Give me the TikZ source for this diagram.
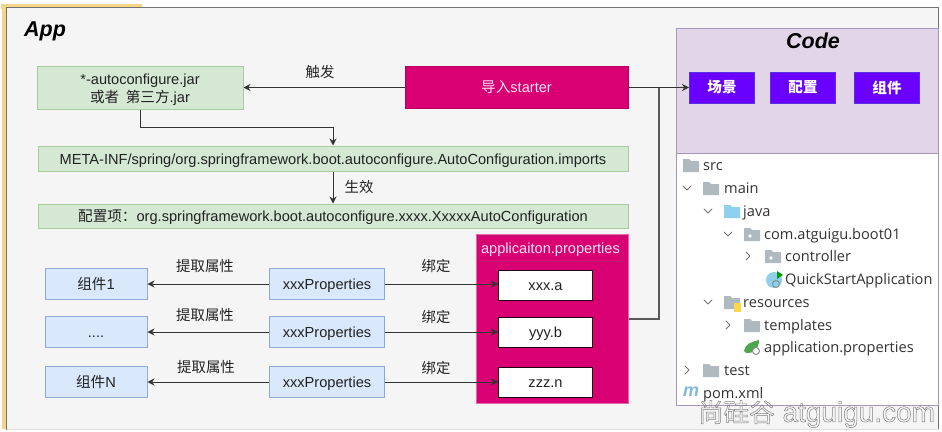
\documentclass[tikz,border=0pt]{standalone}
\usepackage{fontspec}
\setmainfont{Liberation Sans}
\newfontfamily\cjk{Noto Sans CJK SC}
\newfontfamily\treefont{Open Sans}
\usetikzlibrary{arrows.meta}
\definecolor{panelbg}{HTML}{F5F5F5}
\definecolor{greenf}{HTML}{D5E8D4}
\definecolor{greend}{HTML}{A8CC9C}
\definecolor{bluef}{HTML}{DAE8FC}
\definecolor{blued}{HTML}{8FABD3}
\definecolor{pinkf}{HTML}{D80073}
\definecolor{pinkd}{HTML}{B5005F}
\definecolor{codef}{HTML}{E1D5E7}
\definecolor{coded}{HTML}{A896B8}
\definecolor{indigof}{HTML}{6A00FF}
\definecolor{indigod}{HTML}{5A30E0}
\definecolor{folderc}{HTML}{AEB9C0}
\definecolor{javac}{HTML}{8FD0EE}
\definecolor{txt}{HTML}{222222}
\definecolor{stripc}{HTML}{F5D58A}
\newcommand{\st}{\rule[-3.4pt]{0pt}{18pt}}
\tikzset{
  x=1pt,y=-1pt,
  nodebox/.style={draw,line width=1pt,inner sep=0pt,align=center,text=txt,font=\fontsize{14.6}{18}\selectfont},
  greenbox/.style={nodebox,fill=greenf,draw=greend},
  bluebox/.style={nodebox,fill=bluef,draw=blued},
  valuebox/.style={nodebox,fill=white,draw=black!85!pinkf,minimum width=94pt,minimum height=30pt},
  scenebox/.style={nodebox,fill=indigof,draw=indigod,text=white,minimum width=65pt,minimum height=31pt,font=\cjk\bfseries\fontsize{14.6}{16}\selectfont},
  label/.style={inner sep=0pt,text=txt,font=\cjk\fontsize{14.4}{16}\selectfont},
  conn/.style={draw=black!80,line width=1pt,-{Stealth[length=7pt,width=7pt]}},
  plainconn/.style={draw=black!65,line width=1.2pt},
  treetext/.style={anchor=west,inner sep=0pt,text=black!80,font=\treefont\fontsize{14.6}{18}\selectfont,execute at begin node=\st},
  chev/.style={draw=black!55,line width=1pt,line cap=round,line join=round}
}
\newcommand{\fold}[3]{\fill[#3] (#1,#2-6) -- ++(6,0) -- ++(2,2) -- ++(8,0) -- ++(0,11) -- ++(-16,0) -- cycle;}
\newcommand{\pkgdot}[2]{\fill[white] (#1+6,#2+2) circle (1.8pt);}
\newcommand{\chevd}[2]{\draw[chev] (#1-4,#2-2) -- (#1,#2+2) -- (#1+4,#2-2);}
\newcommand{\chevr}[2]{\draw[chev] (#1-2,#2-4) -- (#1+2,#2) -- (#1-2,#2+4);}
\begin{document}
\begin{tikzpicture}
\useasboundingbox (0,0) rectangle (942,431);
\fill[white] (0,0) rectangle (942,431);
% frames
\fill[stripc] (1,4) rectangle (142,9);
\fill[stripc] (2,4) rectangle (6,429);
\fill[panelbg] (6,7) rectangle (939,429.5);
\draw[draw=black!55,line width=.8pt] (6.5,429.5) -- (6.5,7.5) -- (938.5,7.5) -- (938.5,429.5);
\draw[draw=black!12,line width=.8pt] (6.5,429.5) -- (938.5,429.5);
\node[anchor=west,inner sep=0pt,font=\bfseries\itshape\fontsize{21.5}{24}\selectfont] (apptitle) at (24,31.5) {App};
% code panel
\node[draw=coded,fill=codef,line width=1pt,minimum width=262pt,minimum height=125pt,anchor=north west,inner sep=0pt] (codepanel) at (676,28) {};
\node[draw=coded,fill=white,line width=1pt,minimum width=262pt,minimum height=252pt,anchor=north west,inner sep=0pt] (treepanel) at (676,153) {};
\node[inner sep=0pt,font=\bfseries\itshape\fontsize{21.5}{24}\selectfont] (codetitle) at (813,40.5) {Code};
\node[scenebox] (s1) at (722,87.5) {场景};
\node[scenebox] (s2) at (803,87.5) {配置};
\node[scenebox] (s3) at (887,87.5) {组件};
% main boxes
\node[greenbox,minimum width=206pt,minimum height=43pt] (jar) at (140,87.5) {\st*-autoconfigure.jar\\\st{\cjk 或者\ \ 第三方}.jar};
\node[nodebox,fill=pinkf,draw=pinkd,text=white!90!pinkf,minimum width=223pt,minimum height=42pt] (starter) at (516.5,87) {\st{\cjk 导入}starter};
\node[greenbox,minimum width=590pt,minimum height=25pt] (meta) at (333,158.5) {\st META-INF/spring/org.springframework.boot.autoconfigure.AutoConfiguration.imports};
\node[greenbox,minimum width=590pt,minimum height=24pt] (config) at (333,216) {\st{\cjk 配置项：}org.springframework.boot.autoconfigure.xxxx.XxxxxAutoConfiguration};
% properties block
\node[nodebox,fill=pinkf,draw=pinkf!60,minimum width=152pt,minimum height=169pt] (props) at (552,318.5) {};
\node[nodebox,fill=pinkf,draw=pinkd!90,line width=.5pt,text=white!90!pinkf,minimum width=143pt,minimum height=26pt] (propstitle) at (550.5,248) {\st applicaiton.properties};
\node[valuebox] (va) at (545.5,285) {\st xxx.a};
\node[valuebox] (vb) at (545.5,332) {\st yyy.b};
\node[valuebox] (vc) at (545.5,382) {\st zzz.n};
\node[bluebox,minimum width=115pt,minimum height=31pt] (pa) at (327,284) {\st xxxProperties};
\node[bluebox,minimum width=115pt,minimum height=31pt] (pb) at (327,332) {\st xxxProperties};
\node[bluebox,minimum width=115pt,minimum height=31pt] (pc) at (327,382) {\st xxxProperties};
\node[bluebox,minimum width=102pt,minimum height=31pt] (ca) at (96,284) {\st{\cjk 组件}1};
\node[bluebox,minimum width=102pt,minimum height=31pt] (cb) at (96,332) {\st....};
\node[bluebox,minimum width=102pt,minimum height=31pt] (cc) at (96,382) {\st{\cjk 组件}N};
% connectors
\coordinate (j1) at (140,127);
\coordinate (j2) at (333,127);
\coordinate (k1) at (659,319);
\coordinate (k2) at (659,87.5);
\draw[conn] (starter.west |- jar.east) -- (jar.east);
\draw[conn] (starter.east |- s1.west) -- (s1.west);
\draw[conn] (jar.south -| j1) -- (j1) -- (j2) -- (meta.north -| j2);
\draw[conn] (meta.south) -- (config.north);
\draw[plainconn] (props.east |- k1) -- (k1) -- (k2);
\draw[conn] (pa) -- (ca);
\draw[conn] (pb) -- (cb);
\draw[conn] (pc) -- (cc);
\draw[conn] (pa.east) -- (va.west |- pa.east);
\draw[conn] (pb) -- (vb);
\draw[conn] (pc) -- (vc);
% labels
\node[label] (l0) at (320,72) {触发};
\node[label] (l1) at (359,187) {生效};
\node[label] (l2) at (205,266) {提取属性};
\node[label] (l3) at (205,315) {提取属性};
\node[label] (l4) at (206,367) {提取属性};
\node[label] (l5) at (436,266) {绑定};
\node[label] (l6) at (436,317) {绑定};
\node[label] (l7) at (436,368) {绑定};
% tree
\fold{683}{165}{folderc}
\fold{703}{188}{folderc}
\fold{724}{211}{javac}
\fold{744}{234}{folderc}\pkgdot{744}{234}
\fold{765}{256}{folderc}\pkgdot{765}{256}
\fold{724}{302}{folderc}
\fill[yellow!60!orange!70] (734,303) rectangle (741,312);
\fold{744}{325}{folderc}
\chevd{687}{188}\chevd{708}{211}\chevd{728}{234}
\chevr{748}{256}\chevd{708}{302}\chevr{728}{325}\chevr{687}{370}
\fold{703}{370}{folderc}
% run and spring icons
\fill[javac] (774,280) circle (8pt);
\fill[green!60!black] (777,271) -- (783,275) -- (777,279) -- cycle;
\draw[black!45,line width=1pt] (776,284) circle (3.5pt);
\fill[green!50!black!70] (744,351) .. controls (745,344) and (751,342) .. (759,340) .. controls (759,349) and (753,354) .. (746,353) -- cycle;
\draw[black!45,fill=white,line width=1pt] (756,351) circle (3.5pt);
\node[text=javac!90!black,inner sep=0pt,font=\bfseries\itshape\fontsize{18}{20}\selectfont] (micon) at (691,392) {m};
\node[treetext] (t1) at (703,165) {src};
\node[treetext] (t2) at (724,188) {main};
\node[treetext] (t3) at (743,211) {java};
\node[treetext] (t4) at (764,234) {com.atguigu.boot01};
\node[treetext] (t5) at (785,256) {controller};
\node[treetext] (t6) at (785,279) {QuickStartApplication};
\node[treetext] (t7) at (743,302) {resources};
\node[treetext] (t8) at (764,325) {templates};
\node[treetext] (t9) at (764,347) {application.properties};
\node[treetext] (t10) at (724,370) {test};
\node[treetext] (t11) at (703,393) {pom.xml};
\node[anchor=west,inner sep=0pt,text=black!50,font=\fontsize{28}{30}\selectfont] (wm) at (698,414) {\special{pdf:code 1 Tr 0.5 w}{\cjk\fontsize{25.5}{30}\selectfont 尚硅谷} atguigu.com\special{pdf:code 0 Tr}};
\end{tikzpicture}
\end{document}
